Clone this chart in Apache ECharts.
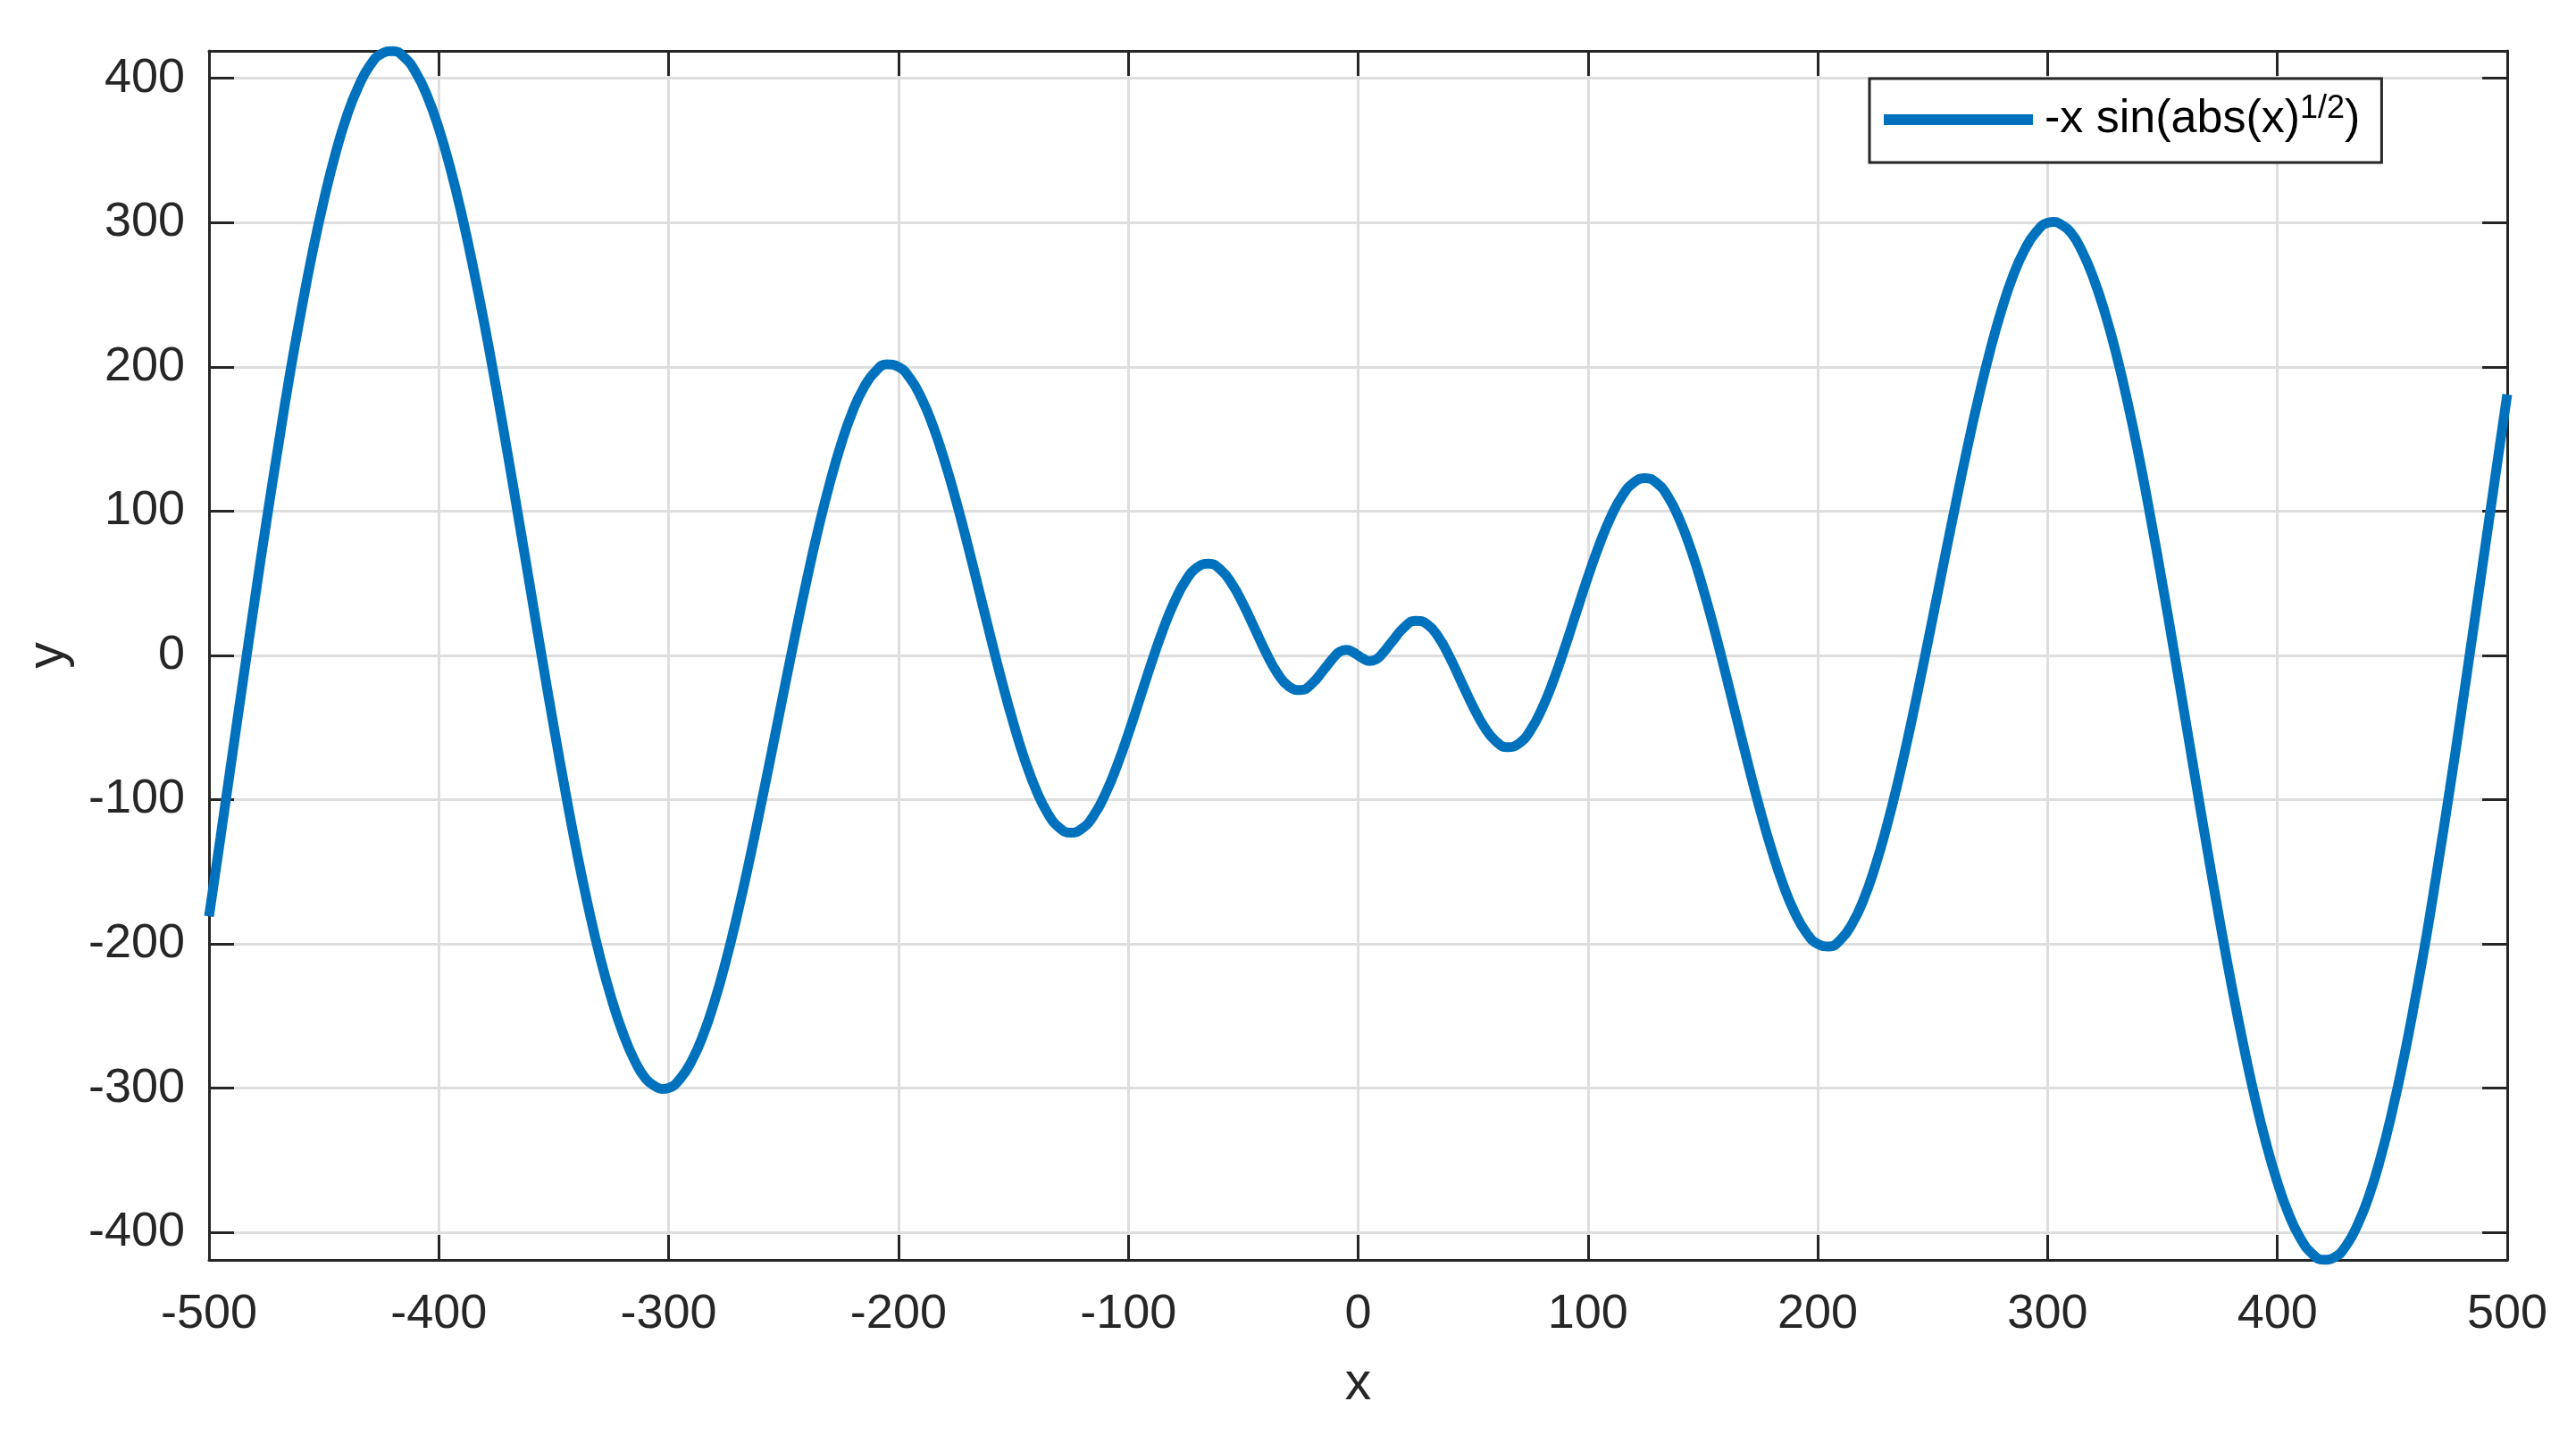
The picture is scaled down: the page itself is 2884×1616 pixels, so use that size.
<!DOCTYPE html>
<html>
<head>
<meta charset="utf-8">
<title>-x sin(abs(x)^(1/2))</title>
<script src="https://cdn.jsdelivr.net/npm/echarts@6/dist/echarts.min.js"></script>
<style>
  html, body { margin: 0; padding: 0; background: #fff; }
  #chart { width: 2884px; height: 1616px; }
</style>
</head>
<body>
<div id="chart"></div>
<script>
// values
var xValues = [
  -500, -495, -490, -485, -480, -475, -470, -465, -460, -455,
  -450, -445, -440, -435, -430, -425, -420, -415, -410, -405,
  -400, -395, -390, -385, -380, -375, -370, -365, -360, -355,
  -350, -345, -340, -335, -330, -325, -320, -315, -310, -305,
  -303, -300, -295, -290, -285, -280, -275, -270, -265, -260, -255,
  -250, -245, -240, -235, -230, -225, -220, -215, -210, -205,
  -200, -195, -190, -185, -180, -175, -170, -165, -160, -155,
  -150, -145, -140, -135, -130, -125, -120, -115, -110, -105,
  -100, -95, -90, -85, -80, -75, -70, -65, -60, -55,
  -50, -45, -40, -35, -30, -25, -20, -15, -10, -8,
  -5, -2, 0, 2, 5, 8, 10, 15, 20, 25,
  30, 35, 40, 45, 50, 55, 60, 65, 70, 75,
  80, 85, 90, 95, 100, 105, 110, 115, 120, 125,
  130, 135, 140, 145, 150, 155, 160, 165, 170, 175,
  180, 185, 190, 195, 200, 205, 210, 215, 220, 225,
  230, 235, 240, 245, 250, 255, 260, 265, 270, 275,
  280, 285, 290, 295, 300, 303, 305, 310, 315, 320, 325,
  330, 335, 340, 345, 350, 355, 360, 365, 370, 375,
  380, 385, 390, 395, 400, 405, 410, 415, 420, 425,
  430, 435, 440, 445, 450, 455, 460, 465, 470, 475,
  480, 485, 490, 495, 500
];
var yValues = [
  -180.9, -126.1, -70.5, -15.3, 39.5, 92.9, 143.8, 193.2, 237.7, 279.1,
  315.7, 347.5, 374.0, 394.2, 408.8, 417.0, 418.9, 414.5, 404.0, 387.5,
  365.2, 337.6, 305.2, 268.4, 228.2, 184.8, 139.2, 92.2, 44.6, -2.9,
  -49.3, -93.8, -135.9, -174.1, -208.2, -237.2, -261.3, -280.1, -293.4, -299.5,
  -300.5, -299.8, -293.4, -281.1, -263.2, -239.6, -211.3, -178.8, -143.2, -104.9, -65.7,
  -25.8, 13.6, 51.5, 86.9, 118.6, 146.2, 169.0, 185.9, 196.9, 201.7,
  200.0, 192.1, 178.3, 159.1, 135.2, 107.6, 77.3, 45.4, 13.2, -18.0,
  -46.9, -72.5, -93.7, -109.6, -119.4, -122.9, -119.9, -110.8, -96.1, -76.9,
  -54.4, -30.1, -5.6, 17.3, 36.9, 51.9, 61.0, 63.6, 59.6, 49.8,
  35.4, 18.6, 1.7, -12.6, -21.7, -24.0, -19.4, -10.0, -0.2, 2.5,
  3.9, 2.0, 0, -2.0, -3.9, -2.5, 0.2, 10.0, 19.4, 24.0,
  21.7, 12.6, -1.7, -18.6, -35.4, -49.8, -59.6, -63.6, -61.0, -51.9,
  -36.9, -17.3, 5.6, 30.1, 54.4, 76.9, 96.1, 110.8, 119.9, 122.9,
  119.4, 109.6, 93.7, 72.5, 46.9, 18.0, -13.2, -45.4, -77.3, -107.6,
  -135.2, -159.1, -178.3, -192.1, -200.0, -201.7, -196.9, -185.9, -169.0, -146.2,
  -118.6, -86.9, -51.5, -13.6, 25.8, 65.7, 104.9, 143.2, 178.8, 211.3,
  239.6, 263.2, 281.1, 293.4, 299.8, 300.5, 299.5, 293.4, 280.1, 261.3, 237.2,
  208.2, 174.1, 135.9, 93.8, 49.3, 2.9, -44.6, -92.2, -139.2, -184.8,
  -228.2, -268.4, -305.2, -337.6, -365.2, -387.5, -404.0, -414.5, -418.9, -417.0,
  -408.8, -394.2, -374.0, -347.5, -315.7, -279.1, -237.7, -193.2, -143.8, -92.9,
  -39.5, 15.3, 70.5, 126.1, 180.9
];
var yTicks = [-400, -300, -200, -100, 0, 100, 200, 300, 400];
var seriesName = '-x sin(abs(x)^(1/2))';

var FONT = '"Liberation Sans", Arial, Helvetica, sans-serif';
var AXIS_COLOR = '#262626';
var GRID_COLOR = '#dedede';

var points = xValues.map(function (x, i) { return [x, yValues[i]]; });

var chart = echarts.init(document.getElementById('chart'));

var option = {
  backgroundColor: '#fff',
  animation: false,
  grid: { left: 234, right: 77, top: 57, bottom: 205 },
  legend: {
    left: 2093,
    top: 88,
    borderColor: AXIS_COLOR,
    borderWidth: 3,
    backgroundColor: '#fff',
    padding: [16, 24, 18, 16],
    itemWidth: 167,
    itemHeight: 12,
    data: [{ name: seriesName, icon: 'rect' }],
    formatter: function () { return '-x sin(abs(x){sup|1/2})'; },
    textStyle: {
      fontFamily: FONT,
      fontSize: 52,
      lineHeight: 60,
      color: '#000',
      padding: [0, 0, 0, 8],
      rich: {
        sup: { fontFamily: FONT, fontSize: 36, lineHeight: 36, verticalAlign: 'top', color: '#000' }
      }
    }
  },
  xAxis: [{
    type: 'value',
    min: -500,
    max: 500,
    interval: 100,
    name: 'x',
    nameLocation: 'middle',
    nameGap: 110,
    nameTextStyle: { fontFamily: FONT, fontSize: 59, color: AXIS_COLOR },
    axisLine: { show: true, onZero: false, lineStyle: { color: AXIS_COLOR, width: 3 } },
    axisTick: { show: true, inside: true, length: 28, lineStyle: { color: AXIS_COLOR, width: 3 } },
    axisLabel: { fontFamily: FONT, fontSize: 54, color: AXIS_COLOR, margin: 34 },
    splitLine: { show: true, lineStyle: { color: GRID_COLOR, width: 3 } }
  }, {
    type: 'value',
    position: 'top',
    min: -500,
    max: 500,
    interval: 100,
    axisLine: { show: true, onZero: false, lineStyle: { color: AXIS_COLOR, width: 3 } },
    axisTick: { show: true, inside: true, length: 28, lineStyle: { color: AXIS_COLOR, width: 3 } },
    axisLabel: { show: false },
    splitLine: { show: false }
  }],
  yAxis: [{
    type: 'value',
    min: -418.98,
    max: 418.98,
    name: 'y',
    nameLocation: 'middle',
    nameGap: 150,
    nameTextStyle: { fontFamily: FONT, fontSize: 59, color: AXIS_COLOR },
    axisLine: { show: true, onZero: false, lineStyle: { color: AXIS_COLOR, width: 3 } },
    axisTick: { show: true, inside: true, length: 28, customValues: yTicks, lineStyle: { color: AXIS_COLOR, width: 3 } },
    axisLabel: { fontFamily: FONT, fontSize: 54, color: AXIS_COLOR, margin: 27, customValues: yTicks },
    splitLine: { show: true, lineStyle: { color: GRID_COLOR, width: 3 } }
  }, {
    type: 'value',
    position: 'right',
    min: -418.98,
    max: 418.98,
    axisLine: { show: true, onZero: false, lineStyle: { color: AXIS_COLOR, width: 3 } },
    axisTick: { show: true, inside: true, length: 28, customValues: yTicks, lineStyle: { color: AXIS_COLOR, width: 3 } },
    axisLabel: { show: false },
    splitLine: { show: false }
  }],
  series: [{
    name: seriesName,
    type: 'line',
    xAxisIndex: 0,
    yAxisIndex: 0,
    data: points,
    smooth: 0.5,
    showSymbol: false,
    clip: false,
    itemStyle: { color: '#0072BD' },
    lineStyle: { color: '#0072BD', width: 11 },
    z: 3
  }]
};

chart.setOption(option);
</script>
</body>
</html>
